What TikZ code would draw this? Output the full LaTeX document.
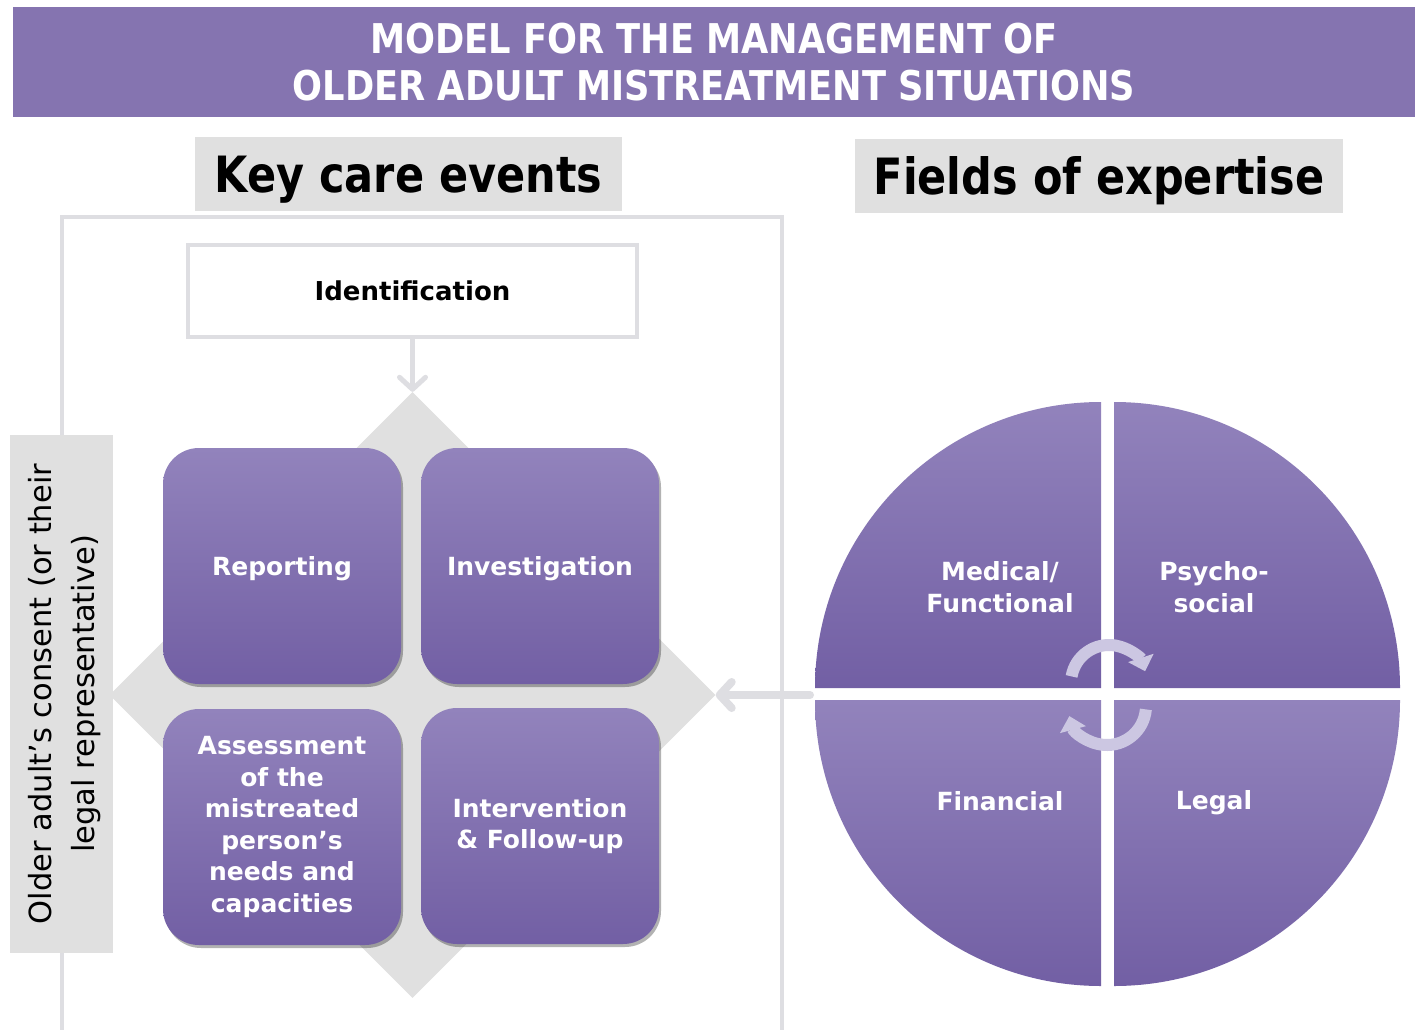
\documentclass[tikz,border=0pt]{standalone}
\usepackage{fontspec}
\setmainfont{DejaVu Sans}
\newfontfamily\condfont[FakeStretch=0.86]{DejaVu Sans}
\usetikzlibrary{arrows.meta,shadows,shapes.geometric}
\definecolor{band}{RGB}{133,116,176}
\definecolor{hgray}{RGB}{224,224,224}
\definecolor{framec}{RGB}{222,222,226}
\definecolor{ptop}{RGB}{146,131,188}
\definecolor{pbot}{RGB}{114,95,164}
\definecolor{arrowc}{RGB}{204,199,226}
\tikzset{
  pbox/.style={rounded corners=36pt, top color=ptop, bottom color=pbot,
    minimum width=238pt, minimum height=236pt, inner sep=0pt, text=white,
    font=\bfseries\fontsize{25}{31.5}\selectfont, align=center,
    drop shadow={shadow xshift=2pt, shadow yshift=-3pt, opacity=0.3, fill=black}},
  qtext/.style={text=white, font=\bfseries\fontsize{25}{31.5}\selectfont, align=center},
  quad/.style={top color=ptop, bottom color=pbot},
  header/.style={fill=hgray, inner sep=0pt, text depth=0pt, font=\condfont\bfseries\fontsize{50}{60}\selectfont},
  cyc/.style={arrowc, line width=12pt, -{Triangle[length=14pt,width=26pt]}},
  grayarrow/.style={framec, line cap=round, -{Straight Barb[length=12pt,width=26pt,round]}}
}
\begin{document}
\begin{tikzpicture}[x=1pt,y=-1pt]
\useasboundingbox (0,0) rectangle (1418,1030);
\fill[white] (0,0) rectangle (1418,1030);

% title band
\node[fill=band, minimum width=1402pt, minimum height=110pt, inner sep=0pt] (title) at (714,62) {};
\node[text=white, align=center, font=\condfont\bfseries\fontsize{41}{47}\selectfont] (titletext) at (714,62)
  {MODEL FOR THE MANAGEMENT OF\\OLDER ADULT MISTREATMENT SITUATIONS};

% headers
\node[header, minimum width=427pt, minimum height=74pt] (kce) at (408.5,174) {Key care events};
\node[header, minimum width=488pt, minimum height=74pt] (foe) at (1099,176) {Fields of expertise};

% frame
\draw[framec, line width=4pt] (62,1032) -- (62,217) -- (782,217) -- (782,1032);

% consent box
\node[fill=hgray, rotate=90, minimum width=518pt, minimum height=103pt, inner sep=0pt, align=center,
  font=\fontsize{30.5}{43}\selectfont] (consent) at (61.5,694) {};
\node[rotate=90, align=center, font=\fontsize{30.5}{43}\selectfont] (consenttext) at (65,694)
  {Older adult’s consent (or their\\legal representative)};

% identification
\node[draw=framec, line width=4pt, fill=white, minimum width=449pt, minimum height=92pt, inner sep=0pt,
  font=\bfseries\fontsize{26}{31}\selectfont] (ident) at (412.5,291) {\raisebox{-2pt}{Identification}};

% diamond
\node[diamond, aspect=1, fill=hgray, minimum width=606pt, minimum height=606pt, inner sep=0pt] (dia) at (412.5,695) {};

\draw[grayarrow, line width=5pt] (ident.south) -- (dia.north);

% care event boxes
\node[pbox, text depth=0pt] (rep) at (282,566) {Reporting};
\node[pbox, text depth=0pt] (inv) at (540,566) {Investigation};
\node[pbox] (ass) at (282,827) {Assessment\\of the\\mistreated\\person’s\\needs and\\capacities};
\node[pbox] (int) at (540,826) {Intervention\\\& Follow-up};

% circle of expertise
\coordinate (cc) at (1107.5,694);
\shade[quad] (1101,688) -- (815,688) arc[start angle=180, end angle=270, radius=286] -- cycle;
\shade[quad] (1114,688) -- (1114,402) arc[start angle=270, end angle=360, radius=286] -- cycle;
\shade[quad] (1101,700) -- (1101,986) arc[start angle=90, end angle=180, radius=286] -- cycle;
\shade[quad] (1114,700) -- (1400,700) arc[start angle=0, end angle=90, radius=286] -- cycle;

\node[qtext] (med) at (1000,587) {Medical/\\Functional};
\node[qtext] (psy) at (1214,587) {Psycho-\\social};
\node[qtext] (fin) at (1000,801) {Financial};
\node[qtext] (leg) at (1214,803) {Legal};

\coordinate (src) at (810,695);
\draw[grayarrow, line width=8pt] (src) -- (dia.east);

% cycle arrows
\coordinate (ca) at (1109,683);
\coordinate (cb) at (1107,706);
\draw[cyc] (ca) ++(190:38) arc[start angle=190, end angle=342, radius=38];
\draw[cyc] (cb) ++(5:39) arc[start angle=5, end angle=165, radius=39];
\end{tikzpicture}
\end{document}
